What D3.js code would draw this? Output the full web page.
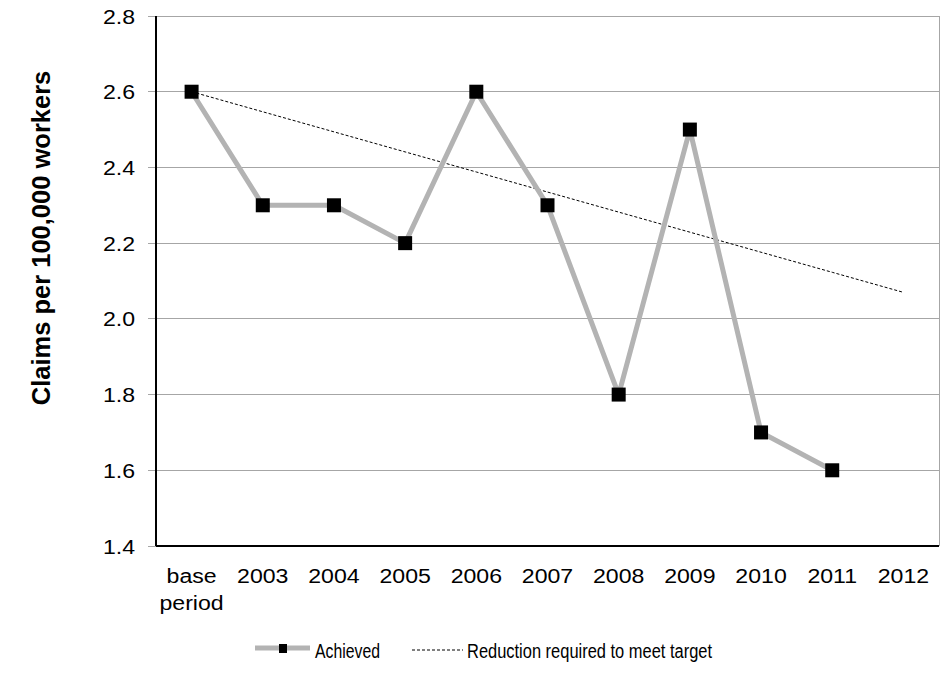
<!DOCTYPE html>
<html><head><meta charset="utf-8">
<script src="https://cdn.jsdelivr.net/npm/d3@7"></script>
<style>body{margin:0;background:#fff}svg{display:block;font-family:"Liberation Sans",Arial,sans-serif}</style>
</head><body><svg id="c" width="942" height="673"></svg>
<script>
const categories = ["base period","2003","2004","2005","2006","2007","2008","2009","2010","2011","2012"];
const achieved = [2.6,2.3,2.3,2.2,2.6,2.3,1.8,2.5,1.7,1.6,null];
const target = [2.6,2.547,2.494,2.441,2.388,2.335,2.282,2.229,2.176,2.123,2.07];
const yTicks = [1.4,1.6,1.8,2.0,2.2,2.4,2.6,2.8];
const yLabel = "Claims per 100,000 workers";
const legendLabels = ["Achieved","Reduction required to meet target"];

const svg = d3.select("#c");
const L=156, R=939, T=16, B=546;
const x = d3.scaleBand().domain(categories).range([L,R]);
const y = d3.scaleLinear().domain([1.4,2.8]).range([B,T]);
const cx = d => x(d)+x.bandwidth()/2;
const SX = 1.1;

// gridlines
svg.append("g").selectAll("line").data(yTicks.filter(v=>v>1.4)).join("line")
  .attr("x1",148).attr("x2",R).attr("y1",d=>y(d)).attr("y2",d=>y(d))
  .attr("stroke","#a6a6a6").attr("stroke-width",1).attr("shape-rendering","crispEdges");
svg.append("line").attr("x1",148).attr("x2",L).attr("y1",B).attr("y2",B).attr("stroke","#a6a6a6").attr("shape-rendering","crispEdges");
svg.append("line").attr("x1",R).attr("x2",R).attr("y1",T).attr("y2",B).attr("stroke","#a6a6a6").attr("shape-rendering","crispEdges");
// axes
svg.append("line").attr("x1",L).attr("x2",L).attr("y1",T).attr("y2",B).attr("stroke","#000").attr("stroke-width",1.5).attr("shape-rendering","crispEdges");
svg.append("line").attr("x1",L).attr("x2",R).attr("y1",B).attr("y2",B).attr("stroke","#000").attr("stroke-width",1.5).attr("shape-rendering","crispEdges");

// y tick labels
svg.append("g").selectAll("text").data(yTicks).join("text")
  .attr("transform",d=>`translate(135,${y(d)}) scale(${SX},1)`).attr("dy","0.36em").attr("text-anchor","end")
  .attr("font-size",21).attr("fill","#000").text(d=>d.toFixed(1));

// x tick labels
const xl = svg.append("g").selectAll("text").data(categories).join("text")
  .attr("transform",d=>`translate(${cx(d)},583) scale(${SX},1)`).attr("text-anchor","middle").attr("font-size",21).attr("fill","#000");
xl.each(function(d){
  const parts=d.split(" ");
  const t=d3.select(this);
  parts.forEach((p,i)=>t.append("tspan").attr("x",0).attr("dy",i?27:0).text(p));
});

// y label
svg.append("text").attr("transform","translate(50,238) rotate(-90)").attr("text-anchor","middle")
  .attr("font-size",25.5).attr("font-weight","bold").text(yLabel);

// target dashed line
const tData = categories.map((c,i)=>({c,v:target[i]}));
svg.append("path").datum(tData).attr("fill","none").attr("stroke","#000").attr("stroke-width",1)
  .attr("stroke-dasharray","3,2")
  .attr("d",d3.line().x(d=>cx(d.c)).y(d=>y(d.v)));

// achieved line
const aData = categories.map((c,i)=>({c,v:achieved[i]})).filter(d=>d.v!=null);
svg.append("path").datum(aData).attr("fill","none").attr("stroke","#b3b3b3").attr("stroke-width",5)
  .attr("stroke-linejoin","round")
  .attr("d",d3.line().x(d=>cx(d.c)).y(d=>y(d.v)));
svg.append("g").selectAll("rect").data(aData).join("rect")
  .attr("x",d=>cx(d.c)-7).attr("y",d=>y(d.v)-7).attr("width",14).attr("height",14).attr("fill","#000");

// legend
const lg = svg.append("g");
lg.append("line").attr("x1",255).attr("x2",310).attr("y1",648).attr("y2",648).attr("stroke","#b3b3b3").attr("stroke-width",5);
lg.append("rect").attr("x",279).attr("y",644).attr("width",8).attr("height",9).attr("fill","#000");
lg.append("text").attr("x",315).attr("y",658).attr("font-size",20).attr("textLength",65).attr("lengthAdjust","spacingAndGlyphs").text(legendLabels[0]);
lg.append("line").attr("x1",412).attr("x2",463).attr("y1",650).attr("y2",650).attr("stroke","#000").attr("stroke-width",1).attr("stroke-dasharray","3,2");
lg.append("text").attr("x",467).attr("y",658).attr("font-size",20).attr("textLength",245).attr("lengthAdjust","spacingAndGlyphs").text(legendLabels[1]);
</script></body></html>
